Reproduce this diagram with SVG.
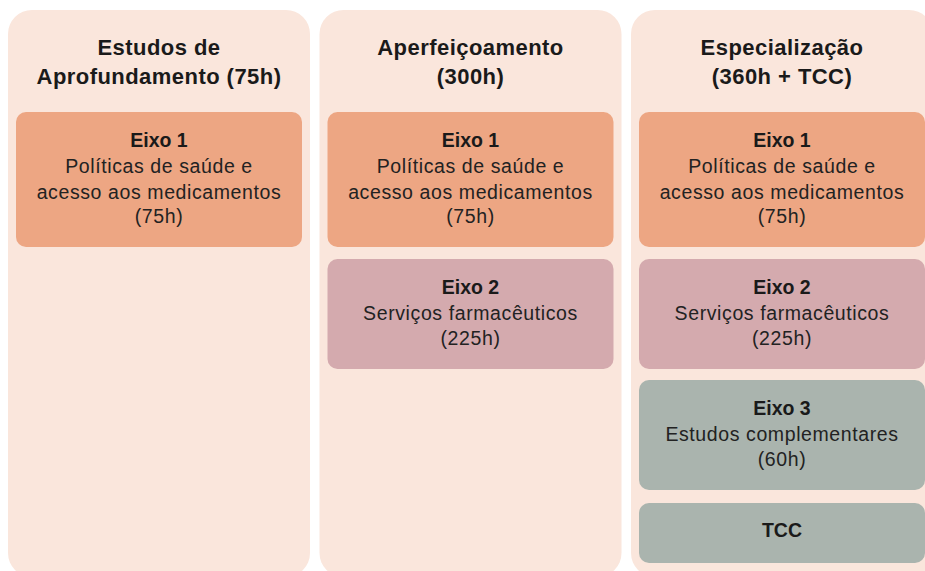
<svg xmlns="http://www.w3.org/2000/svg" width="925" height="571" viewBox="0 0 925 571">
<style>
.col{fill:#FAE6DC}
.e1{fill:#EDA683}
.e2{fill:#D4AAAE}
.e3{fill:#AAB4AE}
.title{font-family:"Liberation Sans",Arial,sans-serif;font-weight:bold;font-size:22px;letter-spacing:0.45px;fill:#1a1a1a;text-anchor:middle}
.h{font-family:"Liberation Sans",Arial,sans-serif;font-weight:bold;font-size:19.5px;fill:#1a1a1a;text-anchor:middle}
.t{font-family:"Liberation Sans",Arial,sans-serif;font-size:19.5px;letter-spacing:0.6px;fill:#222;text-anchor:middle}
</style>
<rect width="925" height="571" fill="#ffffff"/>
<g id="col1">
<rect class="col" x="8" y="10" width="302" height="567" rx="24"/>
<text class="title" x="159" y="55">Estudos de</text>
<text class="title" x="159" y="84">Aprofundamento (75h)</text>
</g>
<g id="col2">
<rect class="col" x="319.5" y="10" width="302" height="567" rx="24"/>
<text class="title" x="470.5" y="55">Aperfeiçoamento</text>
<text class="title" x="470.5" y="84">(300h)</text>
</g>
<g id="col3">
<rect class="col" x="631" y="10" width="302" height="567" rx="24"/>
<text class="title" x="782" y="55">Especialização</text>
<text class="title" x="782" y="84">(360h + TCC)</text>
</g>
<g id="c1-eixo1">
<rect class="e1" x="16" y="112" width="286" height="135" rx="10"/>
<text class="h" x="159" y="147">Eixo 1</text>
<text class="t" x="159" y="173">Políticas de saúde e</text>
<text class="t" x="159" y="198.5">acesso aos medicamentos</text>
<text class="t" x="159" y="223">(75h)</text>
</g>
<g id="c2-eixo1">
<rect class="e1" x="327.5" y="112" width="286" height="135" rx="10"/>
<text class="h" x="470.5" y="147">Eixo 1</text>
<text class="t" x="470.5" y="173">Políticas de saúde e</text>
<text class="t" x="470.5" y="198.5">acesso aos medicamentos</text>
<text class="t" x="470.5" y="223">(75h)</text>
</g>
<g id="c2-eixo2">
<rect class="e2" x="327.5" y="259" width="286" height="110" rx="10"/>
<text class="h" x="470.5" y="293.5">Eixo 2</text>
<text class="t" x="470.5" y="319.5">Serviços farmacêuticos</text>
<text class="t" x="470.5" y="344.5">(225h)</text>
</g>
<g id="c3-eixo1">
<rect class="e1" x="639" y="112" width="286" height="135" rx="10"/>
<text class="h" x="782" y="147">Eixo 1</text>
<text class="t" x="782" y="173">Políticas de saúde e</text>
<text class="t" x="782" y="198.5">acesso aos medicamentos</text>
<text class="t" x="782" y="223">(75h)</text>
</g>
<g id="c3-eixo2">
<rect class="e2" x="639" y="259" width="286" height="110" rx="10"/>
<text class="h" x="782" y="293.5">Eixo 2</text>
<text class="t" x="782" y="319.5">Serviços farmacêuticos</text>
<text class="t" x="782" y="344.5">(225h)</text>
</g>
<g id="c3-eixo3">
<rect class="e3" x="639" y="380" width="286" height="110" rx="10"/>
<text class="h" x="782" y="414.5">Eixo 3</text>
<text class="t" x="782" y="440.5">Estudos complementares</text>
<text class="t" x="782" y="466">(60h)</text>
</g>
<g id="c3-tcc">
<rect class="e3" x="639" y="503" width="286" height="60" rx="10"/>
<text class="h" x="782" y="537">TCC</text>
</g>
<g id="connectors"></g>
</svg>
